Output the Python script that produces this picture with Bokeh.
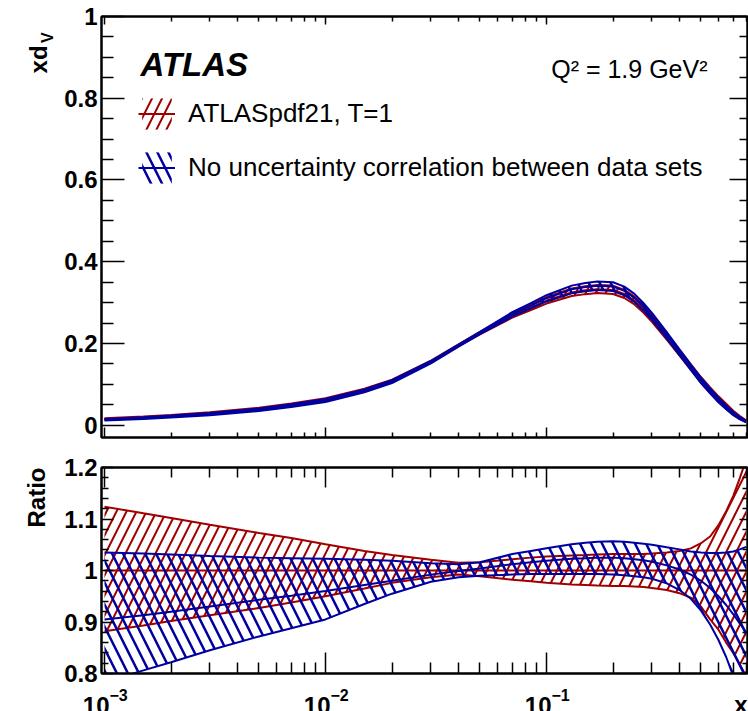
import math
from bokeh.plotting import figure
from bokeh.models import (Range1d, FixedTicker, LinearAxis, LogAxis, Label, Legend, Title,
                          LegendItem, NumeralTickFormatter, ColumnDataSource)
from bokeh.layouts import column, row
from bokeh.core.properties import value
from bokeh.embed import file_html
from bokeh.resources import INLINE

# ---------------- data ----------------
x_vals = [0.001, 0.0015, 0.002, 0.003, 0.005, 0.007, 0.01, 0.015, 0.02, 0.03, 0.04,
          0.05, 0.07, 0.085, 0.1, 0.13, 0.15, 0.17, 0.2, 0.225, 0.25, 0.275, 0.3, 0.35,
          0.4, 0.45, 0.5, 0.55, 0.6, 0.65, 0.7, 0.75, 0.8]

# xd_V central value of ATLASpdf21 at Q^2 = 1.9 GeV^2
xdv_ref = [0.015, 0.019, 0.023, 0.029, 0.040, 0.050, 0.063, 0.086, 0.108, 0.155, 0.195,
           0.225, 0.268, 0.288, 0.305, 0.325, 0.330, 0.333, 0.331, 0.321, 0.305, 0.284,
           0.262, 0.218, 0.178, 0.143, 0.112, 0.087, 0.065, 0.047, 0.031, 0.019, 0.010]

# ratio to ATLASpdf21 central: ATLASpdf21 band
ref_ratio_up = [1.124, 1.111, 1.102, 1.089, 1.073, 1.063, 1.051, 1.038, 1.030, 1.021, 1.015,
                1.016, 1.022, 1.025, 1.027, 1.029, 1.030, 1.031, 1.032, 1.032, 1.032, 1.032,
                1.033, 1.035, 1.038, 1.043, 1.053, 1.066, 1.088, 1.115, 1.145, 1.180, 1.215]
ref_ratio_c = [1.0, 1.0, 1.0, 1.0, 1.0, 1.0, 1.0, 1.0, 1.0, 1.0, 1.0, 1.0, 1.0, 1.0, 1.0,
               1.0, 1.0, 1.0, 1.0, 1.0, 1.0, 1.0, 1.0, 1.0, 1.0, 1.0, 1.0, 1.0, 1.0, 1.0,
               1.0, 1.0, 1.0]
ref_ratio_lo = [0.882, 0.893, 0.902, 0.913, 0.927, 0.938, 0.950, 0.965, 0.976, 0.987, 0.992,
                0.989, 0.982, 0.979, 0.976, 0.973, 0.972, 0.971, 0.970, 0.970, 0.969, 0.968,
                0.966, 0.962, 0.956, 0.947, 0.930, 0.905, 0.885, 0.860, 0.840, 0.817, 0.795]

# ratio to ATLASpdf21 central: no uncertainty correlation between data sets
nocorr_ratio_up = [1.035, 1.033, 1.031, 1.028, 1.025, 1.024, 1.023, 1.021, 1.019, 1.014, 1.012,
                   1.016, 1.032, 1.038, 1.043, 1.051, 1.054, 1.056, 1.057, 1.056, 1.054, 1.052,
                   1.050, 1.045, 1.041, 1.037, 1.035, 1.034, 1.034, 1.035, 1.037, 1.041, 1.046]
nocorr_ratio_c = [0.905, 0.913, 0.920, 0.930, 0.943, 0.951, 0.960, 0.972, 0.980, 0.992, 0.999,
                  1.004, 1.012, 1.016, 1.019, 1.023, 1.024, 1.025, 1.025, 1.024, 1.022, 1.020,
                  1.017, 1.010, 1.002, 0.992, 0.980, 0.966, 0.950, 0.933, 0.915, 0.897, 0.880]
nocorr_ratio_lo = [0.783, 0.806, 0.822, 0.845, 0.872, 0.888, 0.905, 0.935, 0.955, 0.978, 0.987,
                   0.990, 0.992, 0.993, 0.993, 0.993, 0.993, 0.993, 0.992, 0.991, 0.989, 0.987,
                   0.984, 0.975, 0.962, 0.945, 0.922, 0.895, 0.865, 0.832, 0.795, 0.755, 0.710]

y_ticks_top = [0, 0.2, 0.4, 0.6, 0.8, 1.0]
y_ticks_ratio = [0.8, 0.9, 1.0, 1.1, 1.2]
x_tick_exponents = [-3, -2, -1]

label_ref = "ATLASpdf21, T=1"
label_nocorr = "No uncertainty correlation between data sets"

# ---------------- style / geometry ----------------
RED = "#A00000"
BLUE = "#0000A0"
FONT = "Liberation Sans"

STRIP_W = 56                         # left strip holding the rotated xd_V title
FRAME_L, FRAME_R = 101, 747          # page pixels of plot frames
X0_PX, DEC = 104, 221                # pixel of x=1e-3, pixels per decade
TOP_H, RAT_H, BOT_H = 452, 233, 26   # page rows: 0..452, 452..685, 685..711


def px2x(px):
    return 10 ** (-3 + (px - X0_PX) / DEC)


def py_top(py):                      # top frame: y=16 -> 1.0, y=437 -> -0.03
    return 1.0 - (py - 16) * 1.03 / 421


x_range = Range1d(px2x(FRAME_L), px2x(FRAME_R))
x_major = [10 ** e for e in x_tick_exponents]
x_minor = [m * 10 ** e for e in x_tick_exponents for m in range(2, 10) if m * 10 ** e < px2x(FRAME_R)]


def style_axis(ax, major_in, minor_in, labels):
    ax.major_tick_in = major_in
    ax.major_tick_out = 0
    ax.minor_tick_in = minor_in
    ax.minor_tick_out = 0
    ax.axis_line_color = "black"
    ax.axis_line_width = 2
    ax.major_tick_line_color = "black"
    ax.major_tick_line_width = 1.5
    ax.minor_tick_line_color = "black"
    ax.minor_tick_line_width = 1.5
    if labels:
        ax.major_label_text_font = FONT
        ax.major_label_text_font_style = "bold"
        ax.major_label_text_font_size = "24px"
        ax.major_label_text_color = "black"
        ax.major_label_standoff = 4
    else:
        ax.major_label_text_font_size = "1px"
        ax.major_label_text_alpha = 0
        ax.major_label_standoff = 0


def make_fig(width, height, y_range, b_left, b_top, b_bottom, yticks, yminor, tick_len):
    p = figure(width=width, height=height, x_axis_type="log", x_range=x_range, y_range=y_range,
               output_backend="svg", toolbar_location=None,
               min_border_left=b_left, min_border_right=1, min_border_top=b_top,
               min_border_bottom=b_bottom)
    p.xgrid.visible = False
    p.ygrid.visible = False
    p.outline_line_color = "black"
    p.outline_line_width = 2
    p.background_fill_color = "white"
    p.border_fill_color = "white"
    xt = FixedTicker(ticks=x_major, minor_ticks=x_minor)
    yt = FixedTicker(ticks=yticks, minor_ticks=yminor)
    xb, xa, yl, yr = tick_len
    p.xaxis.ticker = xt
    style_axis(p.xaxis[0], xb[0], xb[1], False)
    p.yaxis.ticker = yt
    p.yaxis.formatter = NumeralTickFormatter(format="0.[0]")
    style_axis(p.yaxis[0], yl[0], yl[1], True)
    above = LogAxis(ticker=xt)
    style_axis(above, xa[0], xa[1], False)
    p.add_layout(above, "above")
    right = LinearAxis(ticker=yt)
    style_axis(right, yr[0], yr[1], False)
    p.add_layout(right, "right")
    return p


def strip(width, height, x_range, y_range, x_type="linear"):
    s = figure(width=width, height=height, x_range=x_range, y_range=y_range, x_axis_type=x_type,
               output_backend="svg", toolbar_location=None, x_axis_location=None,
               y_axis_location=None, min_border=0, outline_line_color=None)
    s.grid.visible = False
    s.background_fill_color = "white"
    s.border_fill_color = "white"
    return s


top_minor = [round(0.05 * k, 2) for k in range(0, 21) if k % 4 != 0]
rat_minor = [round(0.8 + 0.02 * k, 2) for k in range(0, 21) if k % 5 != 0]

top = make_fig(748 - STRIP_W, TOP_H, Range1d(-0.03, 1.0), FRAME_L - STRIP_W, 16, 15,
               y_ticks_top, top_minor, ((10, 5), (8, 5), (23, 12), (18, 8)))
rat = make_fig(748, RAT_H, Range1d(0.8, 1.2), FRAME_L, 15, 12,
               y_ticks_ratio, rat_minor, ((21, 11), (20, 10), (12, 7), (8, 5)))

# ---------------- derived curves ----------------
src = ColumnDataSource(dict(
    x=x_vals,
    ref_c=xdv_ref,
    ref_hi=[c * r for c, r in zip(xdv_ref, ref_ratio_up)],
    ref_lo=[c * r for c, r in zip(xdv_ref, ref_ratio_lo)],
    nc_c=[c * r for c, r in zip(xdv_ref, nocorr_ratio_c)],
    nc_hi=[c * r for c, r in zip(xdv_ref, nocorr_ratio_up)],
    nc_lo=[c * r for c, r in zip(xdv_ref, nocorr_ratio_lo)],
    r_ref_up=ref_ratio_up, r_ref_c=ref_ratio_c, r_ref_lo=ref_ratio_lo,
    r_nc_up=nocorr_ratio_up, r_nc_c=nocorr_ratio_c, r_nc_lo=nocorr_ratio_lo,
))


def band(p, lo, hi, c, color, pattern, weight, scale):
    area = p.varea(x="x", y1=lo, y2=hi, source=src, fill_color=None, fill_alpha=0,
                   hatch_pattern=pattern, hatch_color=color, hatch_scale=scale, hatch_weight=weight)
    p.line(x="x", y=hi, source=src, line_color=color, line_width=2)
    p.line(x="x", y=lo, source=src, line_color=color, line_width=2)
    cl = p.line(x="x", y=c, source=src, line_color=color, line_width=2)
    return area, cl


red_area, red_line = band(top, "ref_lo", "ref_hi", "ref_c", RED, "/", 2, 20)
blue_area, blue_line = band(top, "nc_lo", "nc_hi", "nc_c", BLUE, "\\", 2.5, 22)
band(rat, "r_ref_lo", "r_ref_up", "r_ref_c", RED, "/", 2, 20)
band(rat, "r_nc_lo", "r_nc_up", "r_nc_c", BLUE, "\\", 2.5, 22)

legend = Legend(items=[LegendItem(label=label_ref, renderers=[red_area, red_line]),
                       LegendItem(label=label_nocorr, renderers=[blue_area, blue_line])],
                location=(37, 250), padding=0, margin=0, spacing=15, label_standoff=13,
                glyph_width=37, glyph_height=39, border_line_color=None,
                background_fill_alpha=0, label_text_font=FONT, label_text_font_size="26px",
                label_text_color="black")
top.add_layout(legend)

top.add_layout(Label(x=px2x(140), y=py_top(64), text="ATLAS", text_font=FONT,
                     text_font_style="bold italic", text_font_size="33px",
                     text_baseline="alphabetic", text_color="black"))
top.add_layout(Label(x=px2x(707), y=py_top(68), text="Q² = 1.9 GeV²", text_font=FONT,
                     text_font_size="25px", text_align="right", text_baseline="alphabetic",
                     text_color="black"))

# "Ratio" title in the left panel of the ratio plot, at the top end
rat.add_layout(Title(text="Ratio", align="right", text_font=FONT, text_font_style="bold",
                     text_font_size="24px", text_color="black", standoff=23), "left")

# ---------------- left strip: rotated xd_V title (page pixel coordinates) ----------------
left_top = strip(STRIP_W, TOP_H, Range1d(0, STRIP_W), Range1d(TOP_H, 0))
left_top.text(x=[38], y=[31], text=["xd"], angle=math.pi / 2, text_font=value(FONT),
              text_font_style="bold", text_font_size="24px", text_align="right",
              text_baseline="alphabetic", text_color="black")
left_top.text(x=[47], y=[17], text=["V"], angle=math.pi / 2, text_font=value(FONT),
              text_font_style="bold", text_font_size="16px", text_align="right",
              text_baseline="alphabetic", text_color="black")

# ---------------- bottom strip: x tick labels and x title (own full-width frame) ----------------
bot = strip(748, BOT_H, Range1d(px2x(0), px2x(748)), Range1d(711, 711 - BOT_H), x_type="log")
bot.text(x=x_major, y=[705] * len(x_major), text=["10"] * len(x_major), x_offset=5,
         text_font=value(FONT), text_font_style="bold", text_font_size="24px",
         text_align="right", text_baseline="alphabetic", text_color="black")
bot.text(x=x_major, y=[694] * len(x_major), text=["\u2212" + str(-e) for e in x_tick_exponents],
         x_offset=5, text_font=value(FONT), text_font_style="bold", text_font_size="16px",
         text_align="left", text_baseline="alphabetic", text_color="black")
bot.text(x=[px2x(747)], y=[704], text=["x"], text_font=value(FONT), text_font_style="bold",
         text_font_size="24px", text_align="right", text_baseline="alphabetic", text_color="black")

# rows keep Bokeh from aligning the bottom strip's frame with the ratio plot's frame
layout = column(row(left_top, top), row(rat), row(bot))
open("out.html", "w").write(file_html(layout, INLINE))
